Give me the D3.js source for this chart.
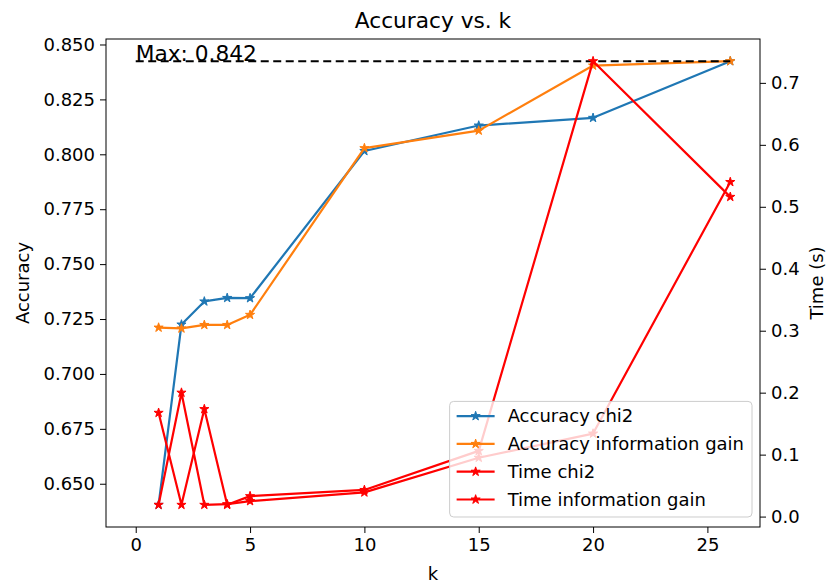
<!DOCTYPE html>
<html>
<head>
<meta charset="utf-8">
<script src="https://cdn.jsdelivr.net/npm/d3@7"></script>
<style>
  body { margin: 0; background: #fff; }
  text { font-family: "DejaVu Sans", sans-serif; fill: #000; }
</style>
</head>
<body>
<div class="chart"></div>
<script>
// values
const kValues = [1, 2, 3, 4, 5, 10, 15, 20, 26];
const accChi2 = [0.6404, 0.7225, 0.7330, 0.7346, 0.7345, 0.8015, 0.8131, 0.8166, 0.8424];
const accInfoGain = [0.7211, 0.7207, 0.7223, 0.7223, 0.7269, 0.8028, 0.8108, 0.8404, 0.8424];
const timeChi2 = [0.1675, 0.019, 0.1735, 0.019, 0.033, 0.043, 0.106, 0.735, 0.516];
const timeInfoGain = [0.019, 0.200, 0.019, 0.020, 0.025, 0.039, 0.095, 0.134, 0.540];
const xTicks = [0, 5, 10, 15, 20, 25];
const accTicks = [0.650, 0.675, 0.700, 0.725, 0.750, 0.775, 0.800, 0.825, 0.850];
const timeTicks = [0.0, 0.1, 0.2, 0.3, 0.4, 0.5, 0.6, 0.7];
const legendLabels = ["Accuracy chi2", "Accuracy information gain", "Time chi2", "Time information gain"];

const width = 831, height = 588;
const mLeft = 106, mRight = 760, mTop = 39, mBottom = 527;
const fs = 18;

// matplotlib style 5% padding
function padded(vals) {
  const lo = d3.min(vals), hi = d3.max(vals), p = (hi - lo) * 0.05;
  return [lo - p, hi + p];
}

const maxAcc = d3.max(accChi2.concat(accInfoGain));

const xScale = d3.scaleLinear().domain(padded(kValues.concat([0]))).range([mLeft, mRight]);
const yAcc = d3.scaleLinear().domain(padded(accChi2.concat(accInfoGain))).range([mBottom, mTop]);
const yTime = d3.scaleLinear().domain(padded(timeChi2.concat(timeInfoGain))).range([mBottom, mTop]);

const svg = d3.select('.chart').append('svg').attr('width', width).attr('height', height);

const star = d3.symbol().type(d3.symbolStar).size(26);

function drawSeries(g, ys, yScale, color) {
  const pts = kValues.map((k, i) => [xScale(k), yScale(ys[i])]);
  g.append('path')
    .attr('d', d3.line()(pts))
    .attr('fill', 'none')
    .attr('stroke', color)
    .attr('stroke-width', 2.2)
    .attr('stroke-linejoin', 'round');
  g.selectAll(null).data(pts).join('path')
    .attr('d', star)
    .attr('transform', d => 'translate(' + d[0] + ',' + d[1] + ')')
    .attr('fill', color)
    .attr('stroke', color)
    .attr('stroke-width', 1);
}

// accuracy axes
const g1 = svg.append('g');
drawSeries(g1, accChi2, yAcc, '#1f77b4');
drawSeries(g1, accInfoGain, yAcc, '#ff7f0e');

g1.append('line')
  .attr('x1', xScale(0)).attr('x2', xScale(26))
  .attr('y1', yAcc(maxAcc)).attr('y2', yAcc(maxAcc))
  .attr('stroke', '#000').attr('stroke-width', 2)
  .style('stroke-dasharray', '8,4.5');

g1.append('text')
  .attr('x', xScale(0)).attr('y', yAcc(maxAcc))
  .style('font-size', '21.7px')
  .text('Max: ' + d3.format('.3f')(maxAcc));

// time axes (twin)
const g2 = svg.append('g');
drawSeries(g2, timeChi2, yTime, '#ff0000');
drawSeries(g2, timeInfoGain, yTime, '#ff0000');

// spines
svg.append('rect')
  .attr('x', mLeft).attr('y', mTop).attr('width', mRight - mLeft).attr('height', mBottom - mTop)
  .attr('fill', 'none').attr('stroke', '#000').attr('stroke-width', 1);

const xAxis = d3.axisBottom(xScale).tickValues(xTicks).tickSize(6).tickPadding(5).tickFormat(d3.format('d'));
const yAxisL = d3.axisLeft(yAcc).tickValues(accTicks).tickSize(6).tickPadding(5).tickFormat(d3.format('.3f'));
const yAxisR = d3.axisRight(yTime).tickValues(timeTicks).tickSize(6).tickPadding(5).tickFormat(d3.format('.1f'));

function styleAxis(g) {
  g.select('.domain').remove();
  g.selectAll('text').style('font-size', fs + 'px').style('font-family', '"DejaVu Sans", sans-serif').attr('fill', '#000');
  g.selectAll('line').attr('stroke', '#000');
}

svg.append('g').attr('transform', 'translate(0,' + mBottom + ')').call(xAxis).call(styleAxis);
svg.append('g').attr('transform', 'translate(' + mLeft + ',0)').call(yAxisL).call(styleAxis);
svg.append('g').attr('transform', 'translate(' + mRight + ',0)').call(yAxisR).call(styleAxis);

// labels
svg.append('text')
  .attr('x', (mLeft + mRight) / 2).attr('y', 28)
  .attr('text-anchor', 'middle')
  .style('font-size', '21.7px')
  .text('Accuracy vs. k');

svg.append('text')
  .attr('x', (mLeft + mRight) / 2).attr('y', 580)
  .attr('text-anchor', 'middle')
  .style('font-size', fs + 'px')
  .text('k');

svg.append('text')
  .attr('transform', 'translate(29,' + (mTop + mBottom) / 2 + ') rotate(-90)')
  .attr('text-anchor', 'middle')
  .style('font-size', fs + 'px')
  .text('Accuracy');

svg.append('text')
  .attr('transform', 'translate(823,' + (mTop + mBottom) / 2 + ') rotate(-90)')
  .attr('text-anchor', 'middle')
  .style('font-size', fs + 'px')
  .text('Time (s)');

// legend
const legendColors = ['#1f77b4', '#ff7f0e', '#ff0000', '#ff0000'];
const leg = svg.append('g');
const box = leg.append('rect')
  .attr('fill', '#fff').attr('fill-opacity', 0.8)
  .attr('stroke', '#cccccc').attr('stroke-width', 1)
  .attr('rx', 4).attr('ry', 4);

const rowH = 27.8;
const rows = leg.selectAll('g.row').data(legendLabels).join('g')
  .attr('class', 'row')
  .attr('transform', (d, i) => 'translate(0,' + (14.7 + i * rowH) + ')');

rows.append('line')
  .attr('x1', 7).attr('x2', 45)
  .attr('stroke', (d, i) => legendColors[i]).attr('stroke-width', 2.2);
rows.append('path')
  .attr('d', star)
  .attr('transform', 'translate(26,0)')
  .attr('fill', (d, i) => legendColors[i])
  .attr('stroke', (d, i) => legendColors[i]);
rows.append('text')
  .attr('x', 58).attr('dy', '0.35em')
  .style('font-size', fs + 'px')
  .text(d => d);

let maxW = 0;
rows.selectAll('text').each(function () { maxW = Math.max(maxW, this.getComputedTextLength()); });
const boxW = 58 + maxW + 8;
const boxH = 115.6;
box.attr('width', boxW).attr('height', boxH);
leg.attr('transform', 'translate(' + (mRight - 8 - boxW) + ',' + (mBottom - 10 - boxH) + ')');
</script>
</body>
</html>
